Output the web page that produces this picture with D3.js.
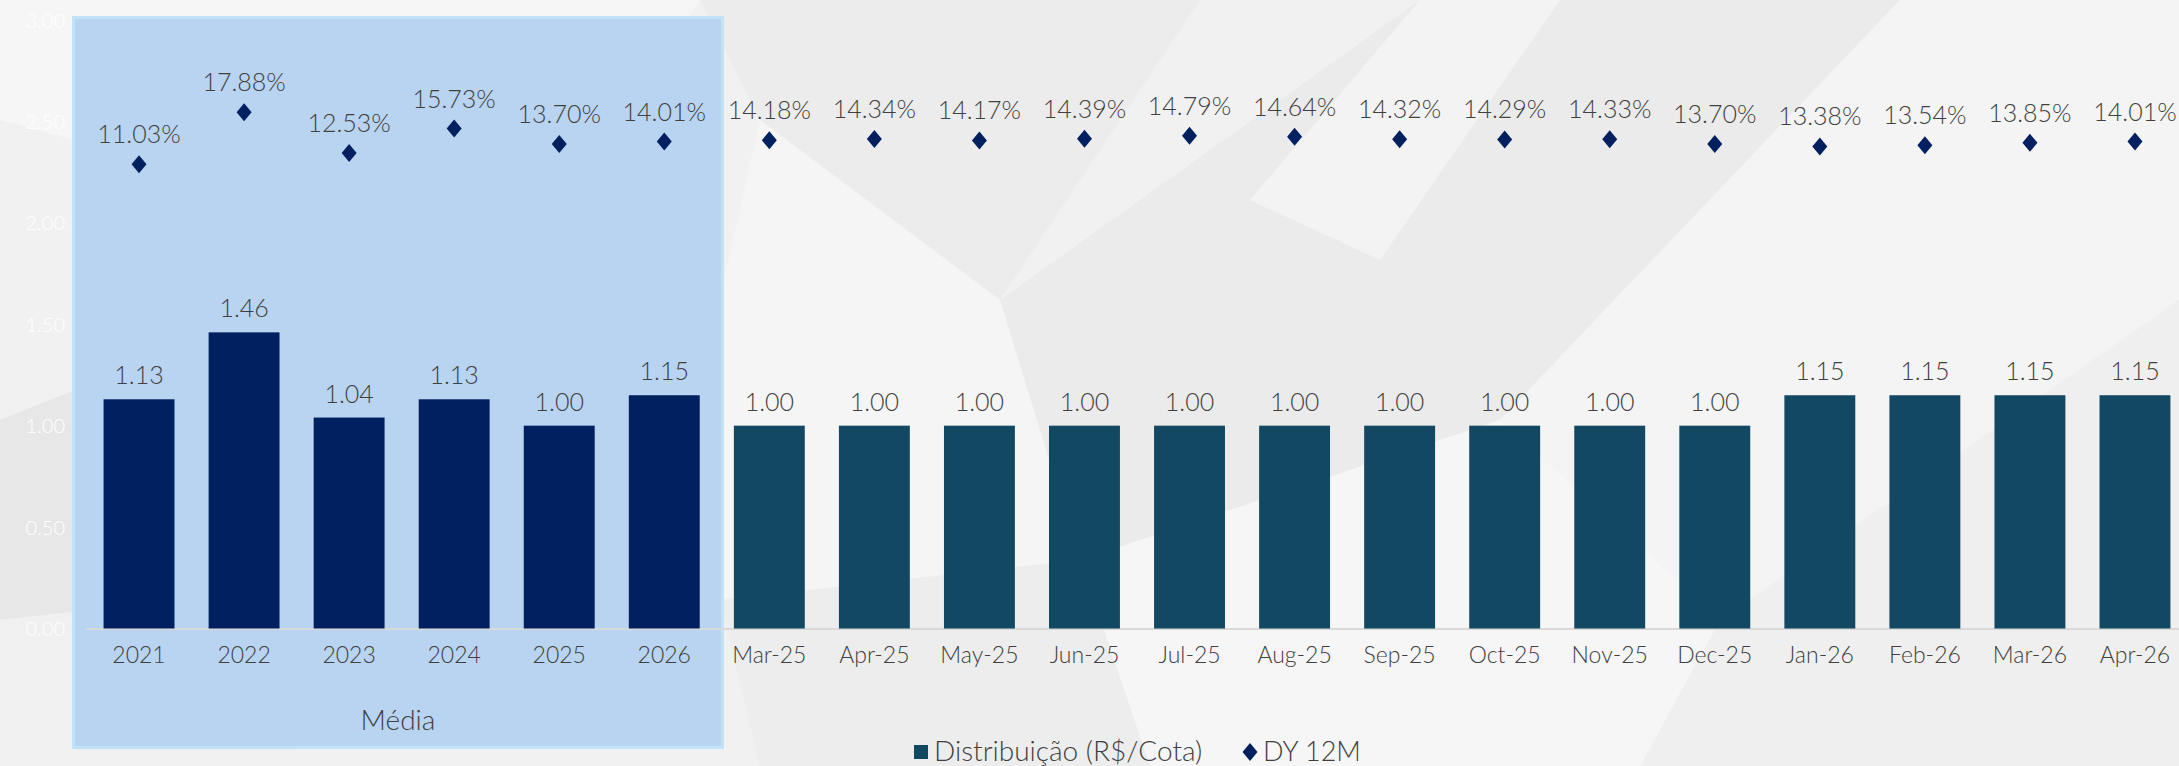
<!DOCTYPE html>
<html><head><meta charset="utf-8">
<script src="https://cdn.jsdelivr.net/npm/d3@7"></script>
<style>
html,body{margin:0;padding:0;background:#f3f3f3;}
svg{display:block;font-family:Lato,"Open Sans",sans-serif;font-weight:300;}
</style></head>
<body>
<svg id="chart" width="2179" height="766"></svg>
<script>
const categories = ["2021","2022","2023","2024","2025","2026","Mar-25","Apr-25","May-25","Jun-25","Jul-25","Aug-25","Sep-25","Oct-25","Nov-25","Dec-25","Jan-26","Feb-26","Mar-26","Apr-26"];
const distribution = [1.13,1.46,1.04,1.13,1.00,1.15,1.00,1.00,1.00,1.00,1.00,1.00,1.00,1.00,1.00,1.00,1.15,1.15,1.15,1.15];
const dy12m = [11.03,17.88,12.53,15.73,13.70,14.01,14.18,14.34,14.17,14.39,14.79,14.64,14.32,14.29,14.33,13.70,13.38,13.54,13.85,14.01];
const averageCategories = ["2021","2022","2023","2024","2025","2026"];
const yTicks = [0,0.5,1,1.5,2,2.5,3];
const groupLabel = "Média";
const legendLabels = ["Distribuição (R$/Cota)","DY 12M"];

const W = 2179, H = 766;
const svg = d3.select("#chart");

// background decoration
const bg = svg.append("g");
bg.append("rect").attr("width",W).attr("height",H).attr("fill","#f1f1f1");
const polys = [
  {p:[[0,0],[700,0],[520,260],[0,120]],f:"#f6f6f6"},
  {p:[[700,0],[1200,0],[1000,300],[760,120]],f:"#ececec"},
  {p:[[760,120],[1000,300],[1080,560],[720,600],[720,300]],f:"#f5f5f5"},
  {p:[[1000,300],[1420,0],[1900,0],[1500,420],[1080,560]],f:"#ebebeb"},
  {p:[[1500,420],[1900,0],[2179,0],[2179,300],[1720,620]],f:"#f4f4f4"},
  {p:[[1720,620],[2179,300],[2179,766],[1640,766]],f:"#efefef"},
  {p:[[1080,560],[1500,420],[1720,620],[1640,766],[1150,766]],f:"#f6f6f6"},
  {p:[[0,420],[300,300],[180,600],[0,620]],f:"#e7e7e7"},
  {p:[[0,620],[180,600],[300,766],[0,766]],f:"#f0f0f0"},
  {p:[[720,600],[1080,560],[1150,766],[760,766]],f:"#ededed"},
  {p:[[1250,200],[1420,0],[1560,0],[1380,260]],f:"#f3f3f3"}
];
bg.selectAll("polygon").data(polys).join("polygon")
  .attr("points",d=>d.p.map(q=>q.join(",")).join(" "))
  .attr("fill",d=>d.f);

const x = d3.scaleBand().domain(categories).range([86.5,2187.5]).paddingInner(0.325).paddingOuter(0.1625);
const y = d3.scaleLinear().domain([0,3]).range([628.5,20]);
const y2 = d3.scaleLinear().domain([-50,30]).range([628.5,20]);

// highlight box for averages
svg.append("rect").attr("x",73.5).attr("y",17.5).attr("width",649).attr("height",730)
  .attr("fill","#b8d4f0").attr("stroke","#c2e2f7").attr("stroke-width",3);

// y axis labels (white)
const yAxis = d3.axisLeft(y).tickValues(yTicks).tickFormat(d3.format(".2f")).tickSize(0).tickPadding(0);
const gy = svg.append("g").attr("transform","translate(65,0)").call(yAxis);
gy.select(".domain").remove();
gy.selectAll("text").attr("fill","#ffffff").attr("font-size",20).attr("font-family","Lato, sans-serif").attr("font-weight",300).attr("dy","0.35em");

// baseline
svg.append("line").attr("x1",86.5).attr("x2",2187.5).attr("y1",y(0)+0.5).attr("y2",y(0)+0.5)
  .attr("stroke","#d9d9d9").attr("stroke-width",2);

// bars
svg.append("g").selectAll("rect").data(categories).join("rect")
  .attr("x",d=>x(d)).attr("width",x.bandwidth())
  .attr("y",(d,i)=>y(distribution[i])).attr("height",(d,i)=>y(0)-y(distribution[i]))
  .attr("fill",(d,i)=> i < averageCategories.length ? "#00205f" : "#124862");

// bar labels
svg.append("g").selectAll("text").data(categories).join("text")
  .attr("x",d=>x(d)+x.bandwidth()/2).attr("y",(d,i)=>y(distribution[i])-15)
  .attr("text-anchor","middle").attr("font-size",25).attr("fill","#404040")
  .text((d,i)=>distribution[i].toFixed(2));

// diamond markers
const diamond = {draw(ctx,size){const w=7.5,h=9;ctx.moveTo(0,-h);ctx.lineTo(w,0);ctx.lineTo(0,h);ctx.lineTo(-w,0);ctx.closePath();}};
svg.append("g").selectAll("path").data(categories).join("path")
  .attr("transform",(d,i)=>`translate(${x(d)+x.bandwidth()/2},${y2(dy12m[i])})`)
  .attr("d",d3.symbol().type(diamond)).attr("fill","#002060");

svg.append("g").selectAll("text").data(categories).join("text")
  .attr("x",d=>x(d)+x.bandwidth()/2).attr("y",(d,i)=>y2(dy12m[i])-21)
  .attr("text-anchor","middle").attr("font-size",25).attr("fill","#404040")
  .text((d,i)=>dy12m[i].toFixed(2)+"%");

// category axis
const xAxis = d3.axisBottom(x).tickSize(0).tickPadding(0);
const gx = svg.append("g").attr("transform",`translate(0,${y(0)})`).call(xAxis);
gx.select(".domain").remove();
gx.selectAll("text").attr("fill","#404040").attr("font-size",23).attr("font-family","Lato, sans-serif").attr("font-weight",300).attr("dy","1.5em");

// group label
svg.append("text").attr("x",398).attr("y",730).attr("text-anchor","middle")
  .attr("font-size",28).attr("fill","#404040").text(groupLabel);

// legend
const lg = svg.append("g");
lg.append("rect").attr("x",914).attr("y",745).attr("width",14).attr("height",14).attr("fill","#124862");
lg.append("text").attr("x",934).attr("y",761).attr("font-size",28).attr("fill","#404040").text(legendLabels[0]);
lg.append("path").attr("transform","translate(1250,752)").attr("d",d3.symbol().type(diamond)).attr("fill","#002060");
lg.append("text").attr("x",1263).attr("y",761).attr("font-size",27).attr("fill","#404040").text(legendLabels[1]);
</script>
</body></html>
